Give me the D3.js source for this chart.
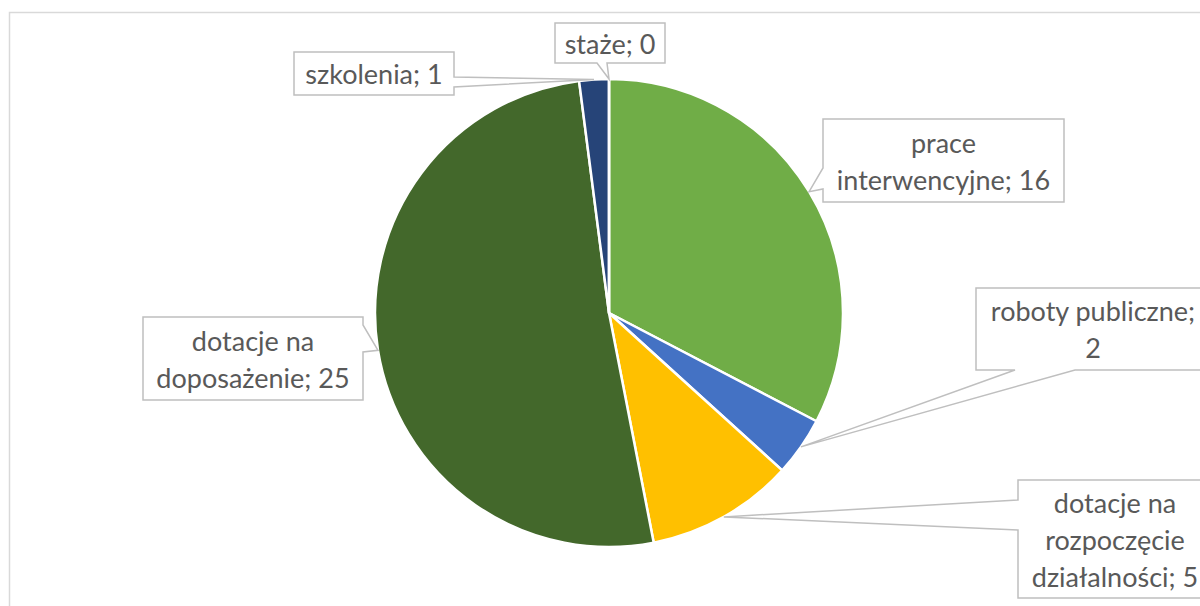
<!DOCTYPE html>
<html><head><meta charset="utf-8">
<script src="https://cdn.jsdelivr.net/npm/d3@7"></script>
<style>html,body{margin:0;padding:0;background:#fff;overflow:hidden}</style>
</head><body><svg id="c" width="1200" height="606"></svg>
<script>
// Data
const categories = ["prace interwencyjne", "roboty publiczne", "dotacje na rozpoczęcie działalności", "dotacje na doposażenie", "szkolenia", "staże"];
const values = [16, 2, 5, 25, 1, 0];
const labelLines = [
  ["prace", "interwencyjne; 16"],
  ["roboty publiczne;", "2"],
  ["dotacje na", "rozpoczęcie", "działalności; 5"],
  ["dotacje na", "doposażenie; 25"],
  ["szkolenia; 1"],
  ["staże; 0"]
];
const colors = ["#70AD47", "#4472C4", "#FFC000", "#43682B", "#264478", "#9E480E"];

// Layout of callout boxes: [x0,y0,x1,y1], side of tail, tail base range
const boxes = [
  {b:[823,119,1064,202], side:"left", base:[168,189]},
  {b:[976,288,1210,370], side:"bottom", base:[1015,1075]},
  {b:[1018,480,1212,598], side:"left", base:[500,530]},
  {b:[143,317,363,400], side:"right", base:[325,352]},
  {b:[294,52,454,95], side:"right", base:[77,87]},
  {b:[555,23,665,63], side:"bottom", base:[597,607]}
];

const svg = d3.select("#c");
// chart area frame
svg.append("rect").attr("x",9.5).attr("y",12.5).attr("width",1300).attr("height",700)
  .attr("fill","#fff").attr("stroke","#d9d9d9").attr("stroke-width",1.5);

const cx = 609, cy = 313, r = 234;
const pie = d3.pie().sort(null).value(d => d)(values);
const arc = d3.arc().innerRadius(0).outerRadius(r);
const g = svg.append("g").attr("transform", `translate(${cx},${cy})`);
g.selectAll("path").data(pie).join("path")
  .attr("d", arc)
  .attr("fill", (d,i) => colors[i])
  .attr("stroke", "#fff").attr("stroke-width", 2.5).attr("stroke-linejoin","round");

// callouts
const lh = 37;
pie.forEach((d, i) => {
  const a = (d.startAngle + d.endAngle) / 2;
  const tip = [cx + r * Math.sin(a), cy - r * Math.cos(a)];
  const L = boxes[i], [x0,y0,x1,y1] = L.b, [p,q] = L.base;
  let pts;
  if (L.side === "left") pts = [[x0,y0],[x1,y0],[x1,y1],[x0,y1],[x0,q],tip,[x0,p]];
  else if (L.side === "right") pts = [[x0,y0],[x1,y0],[x1,p],tip,[x1,q],[x1,y1],[x0,y1]];
  else pts = [[x0,y0],[x1,y0],[x1,y1],[q,y1],tip,[p,y1],[x0,y1]];
  svg.append("path").attr("d", d3.line()(pts) + "Z")
    .attr("fill", "#fff").attr("stroke", "#bfbfbf").attr("stroke-width", 1.5);
  const lines = labelLines[i];
  const mx = (x0 + x1) / 2, my = (y0 + y1) / 2 + 1.5;
  const t = svg.append("text").attr("text-anchor","middle")
    .attr("font-family","Lato, 'Open Sans', sans-serif").attr("font-size", 27).attr("fill","#595959");
  lines.forEach((s, k) => {
    t.append("tspan").attr("x", mx)
      .attr("y", my + (k - (lines.length - 1) / 2) * lh)
      .attr("dy", "0.35em").text(s);
  });
});
</script></body></html>
